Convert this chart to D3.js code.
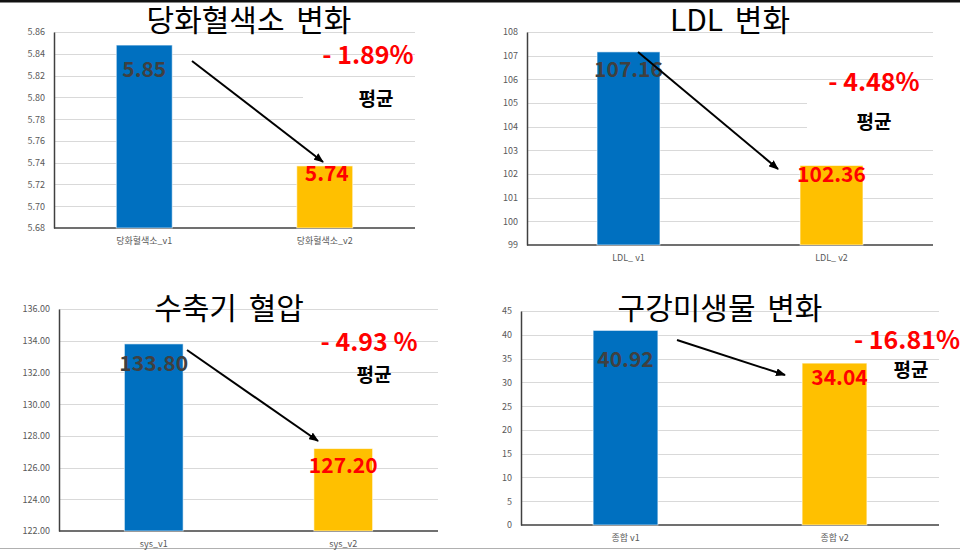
<!DOCTYPE html>
<html>
<head>
<meta charset="utf-8">
<script src="https://cdn.jsdelivr.net/npm/d3@7"></script>
<style>
  html, body { margin: 0; padding: 0; background: #fff; }
  svg { display: block; }
</style>
</head>
<body>
<div id="chart"></div>
<script>
////////////////////////////// DATA ////////////////////////////////////

const titles = ["당화혈색소 변화", "LDL 변화", "수축기 혈압", "구강미생물 변화"];

const categories = [
  ["당화혈색소_v1", "당화혈색소_v2"],
  ["LDL_ v1", "LDL_ v2"],
  ["sys_v1", "sys_v2"],
  ["종합 v1", "종합 v2"],
];

// bar heights (mean before / after)
const values = [
  [5.848, 5.737],
  [107.16, 102.36],
  [133.8, 127.2],
  [40.92, 34.04],
];

const valueLabels = [
  ["5.85", "5.74"],
  ["107.16", "102.36"],
  ["133.80", "127.20"],
  ["40.92", "34.04"],
];

const changeLabels = ["- 1.89%", "- 4.48%", "- 4.93 %", "- 16.81%"];

const yDomains = [
  [5.68, 5.86],
  [99, 108],
  [122, 136],
  [0, 45],
];

const yTicks = [
  [5.68, 5.7, 5.72, 5.74, 5.76, 5.78, 5.8, 5.82, 5.84, 5.86],
  [99, 100, 101, 102, 103, 104, 105, 106, 107, 108],
  [122, 124, 126, 128, 130, 132, 134, 136],
  [0, 5, 10, 15, 20, 25, 30, 35, 40, 45],
];

const yFormats = [".2f", "d", ".2f", "d"];

////////////////////////////// LAYOUT ////////////////////////////////////

const width = 960;
const height = 550;

// plot box of each panel + where the annotations sit
const layout = [
  {
    x0: 54, x1: 415, yTop: 32, yBottom: 228, titleX: 249, titleY: 31,
    change: [368, 53], avg: [376, 97], mask: [303, 84, 120, 28],
    arrow: [192, 61, 323, 162], labelDy: [23, 6], labelDx: [0, 2],
  },
  {
    x0: 527, x1: 933, yTop: 32, yBottom: 245, titleX: 730, titleY: 31,
    change: [874, 80], avg: [874, 120], mask: [807, 96, 140, 40],
    arrow: [638, 52, 778, 169], labelDy: [16, 8], labelDx: [0, 0],
  },
  {
    x0: 59, x1: 438, yTop: 309, yBottom: 531, titleX: 229, titleY: 319,
    change: [369, 340], avg: [374, 373], mask: null,
    arrow: [187, 350, 318, 441], labelDy: [18, 15], labelDx: [0, 0],
  },
  {
    x0: 521, x1: 939, yTop: 311, yBottom: 525, titleX: 720, titleY: 319,
    change: [907, 338], avg: [911, 368], mask: null,
    arrow: [677, 340, 785, 375], labelDy: [28, 13], labelDx: [0, 5],
  },
];

const barColors = ["#0070C0", "#FFC000"];
const labelColors = ["#404040", "#FF0000"];
const font = "'Noto Sans CJK KR', 'Noto Sans', sans-serif";

////////////////////////////// SVG ////////////////////////////////////

const svg = d3
  .select("#chart")
  .append("svg")
  .attr("width", width)
  .attr("height", height)
  .style("font-family", font);

svg.append("rect").attr("width", width).attr("height", height).attr("fill", "#fff");

// slide edges
svg.append("rect").attr("x", 0).attr("y", 0).attr("width", width).attr("height", 2.5).attr("fill", "#111");
svg
  .append("line")
  .attr("x1", 0)
  .attr("x2", width)
  .attr("y1", 548.5)
  .attr("y2", 548.5)
  .attr("stroke", "#b0b0b0")
  .attr("stroke-width", 1);

// arrow head
svg
  .append("defs")
  .append("marker")
  .attr("id", "head")
  .attr("markerUnits", "userSpaceOnUse")
  .attr("viewBox", "0 0 10 8")
  .attr("refX", 9)
  .attr("refY", 4)
  .attr("markerWidth", 10)
  .attr("markerHeight", 8)
  .attr("orient", "auto")
  .append("path")
  .attr("d", "M0,0 L10,4 L0,8 Z")
  .attr("fill", "#000");

////////////////////////////// DRAW PANELS ////////////////////////////////////

function drawPanel(i) {
  const L = layout[i];
  const g = svg.append("g");

  const x = d3
    .scaleBand()
    .domain(categories[i])
    .range([L.x0, L.x1])
    .paddingInner(0.69)
    .paddingOuter(0.345);

  const y = d3.scaleLinear().domain(yDomains[i]).range([L.yBottom, L.yTop]);

  // gridlines
  g.selectAll(".grid")
    .data(yTicks[i].slice(1))
    .join("line")
    .attr("class", "grid")
    .attr("x1", L.x0)
    .attr("x2", L.x1)
    .attr("y1", (d) => Math.round(y(d)) + 0.5)
    .attr("y2", (d) => Math.round(y(d)) + 0.5)
    .attr("stroke", "#D9D9D9")
    .attr("stroke-width", 1);

  // y axis
  const yAxis = g
    .append("g")
    .attr("transform", `translate(${L.x0},0)`)
    .call(
      d3.axisLeft(y).tickValues(yTicks[i]).tickFormat(d3.format(yFormats[i])).tickSize(0).tickPadding(9)
    );
  yAxis.select(".domain").attr("stroke", "#404040").attr("stroke-width", 1.5);
  yAxis.selectAll("text").attr("fill", "#595959").style("font-size", "9px").style("font-family", font);

  // x axis
  const xAxis = g
    .append("g")
    .attr("transform", `translate(0,${L.yBottom})`)
    .call(d3.axisBottom(x).tickSize(0).tickPadding(10));
  xAxis
    .select(".domain")
    .attr("d", `M${L.x0},0H${L.x1}`)
    .attr("stroke", "#404040")
    .attr("stroke-width", 1.5);
  xAxis.selectAll("text").attr("fill", "#595959").style("font-size", "9px").style("font-family", font);

  // bars
  g.selectAll(".bar")
    .data(values[i])
    .join("rect")
    .attr("class", "bar")
    .attr("x", (d, j) => x(categories[i][j]))
    .attr("width", x.bandwidth())
    .attr("y", (d) => y(d))
    .attr("height", (d) => L.yBottom - y(d))
    .attr("fill", (d, j) => barColors[j])
    .attr("stroke", "#ffffff")
    .attr("stroke-opacity", 0.6)
    .attr("stroke-width", 1);

  // white box behind the label (hides part of the grid)
  if (L.mask) {
    g.append("rect")
      .attr("x", L.mask[0])
      .attr("y", L.mask[1])
      .attr("width", L.mask[2])
      .attr("height", L.mask[3])
      .attr("fill", "#fff");
  }

  // value labels
  g.selectAll(".val")
    .data(values[i])
    .join("text")
    .attr("class", "val")
    .attr("x", (d, j) => x(categories[i][j]) + x.bandwidth() / 2 + L.labelDx[j])
    .attr("y", (d, j) => y(d) + L.labelDy[j])
    .attr("text-anchor", "middle")
    .attr("dominant-baseline", "central")
    .attr("fill", (d, j) => labelColors[j])
    .style("font-size", "21px")
    .style("font-weight", "bold")
    .text((d, j) => valueLabels[i][j]);

  // title
  g.append("text")
    .attr("x", L.titleX)
    .attr("y", L.titleY)
    .attr("text-anchor", "middle")
    .attr("fill", "#000")
    .style("font-size", "30px")
    .style("word-spacing", "5px")
    .text(titles[i]);

  // percent change + 평균
  g.append("text")
    .attr("x", L.change[0])
    .attr("y", L.change[1])
    .attr("text-anchor", "middle")
    .attr("dominant-baseline", "central")
    .attr("fill", "#FF0000")
    .style("font-size", "25px")
    .style("font-weight", "bold")
    .text(changeLabels[i]);

  g.append("text")
    .attr("x", L.avg[0])
    .attr("y", L.avg[1])
    .attr("text-anchor", "middle")
    .attr("dominant-baseline", "central")
    .attr("fill", "#000")
    .style("font-size", "19px")
    .style("font-weight", "bold")
    .text("평균");

  // arrow
  g.append("line")
    .attr("x1", L.arrow[0])
    .attr("y1", L.arrow[1])
    .attr("x2", L.arrow[2])
    .attr("y2", L.arrow[3])
    .attr("stroke", "#000")
    .attr("stroke-width", 2)
    .attr("marker-end", "url(#head)");
}

titles.forEach((t, i) => drawPanel(i));
</script>
</body>
</html>
